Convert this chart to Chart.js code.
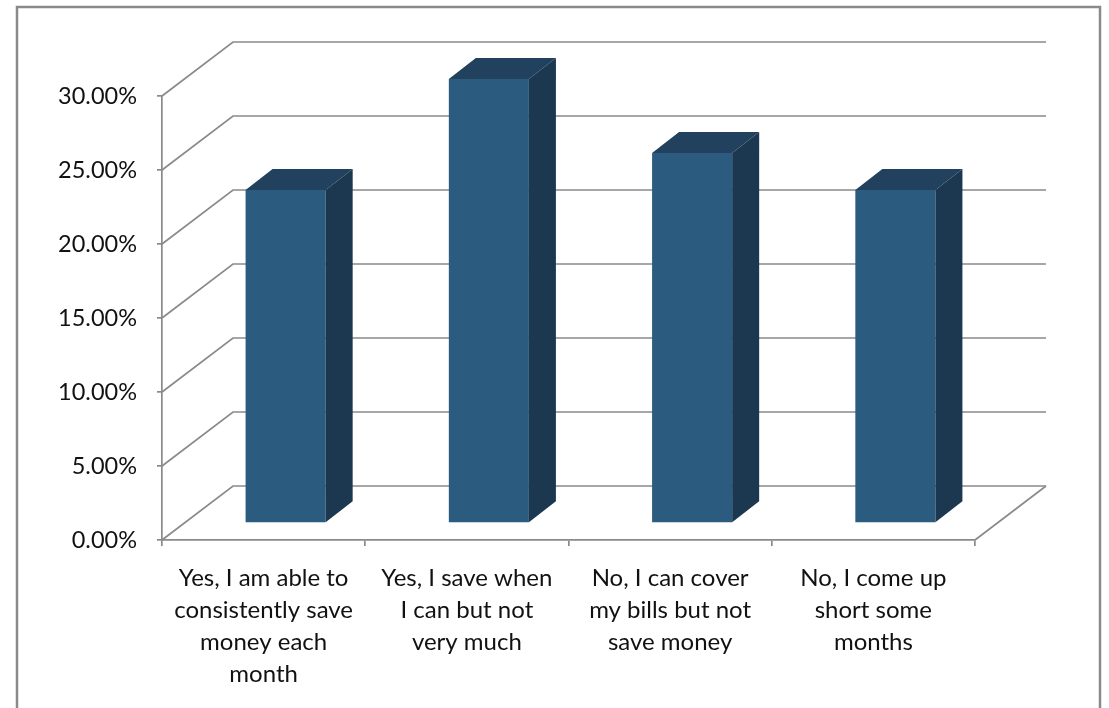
<!DOCTYPE html>
<html>
<head>
<meta charset="utf-8">
<title>Saving habits</title>
<script src="https://cdn.jsdelivr.net/npm/chart.js@4.4.1/dist/chart.umd.min.js"></script>
<style>
    html, body { margin: 0; padding: 0; background: #fff; }
    #chart { display: block; }
</style>
</head>
<body>
<canvas id="chart" width="1109" height="708"></canvas>
<script>
// Survey answers and their share of responses
const categories = [
    ['Yes, I am able to', 'consistently save', 'money each', 'month'],
    ['Yes, I save when', 'I can but not', 'very much'],
    ['No, I can cover', 'my bills but not', 'save money'],
    ['No, I come up', 'short some', 'months']
];
const shares = [22.5, 30.0, 25.0, 22.5];
const yTicks = [0, 5, 10, 15, 20, 25, 30];

// 3D look: wall depth and where the bars sit inside it
const WALL_DX = 71, WALL_DY = -54;
const BAR_SHIFT_X = 22, BAR_SHIFT_Y = -17;
const BAR_DX = 27, BAR_DY = -21;

const GRID = '#8a8a8a';
const FRONT = '#2b5b7f';
const TOP = '#21415f';
const SIDE = '#1c3850';

const box3d = {
    id: 'box3d',
    beforeDraw(chart) {
        const ctx = chart.ctx;
        ctx.save();
        ctx.strokeStyle = '#8a8a8a';
        ctx.lineWidth = 2.5;
        ctx.strokeRect(17, 7, 1083, 800);
        ctx.restore();
    },
    beforeDatasetsDraw(chart) {
        const ctx = chart.ctx;
        const area = chart.chartArea;
        const y = chart.scales.y;
        ctx.save();
        ctx.strokeStyle = GRID;
        ctx.lineWidth = 1.7;
        // side wall diagonals + back wall lines
        yTicks.forEach(v => {
            const py = y.getPixelForValue(v);
            ctx.beginPath();
            ctx.moveTo(area.left, py);
            ctx.lineTo(area.left + WALL_DX, py + WALL_DY);
            ctx.lineTo(area.right + WALL_DX, py + WALL_DY);
            ctx.stroke();
        });
        // floor right edge
        const base = y.getPixelForValue(0);
        ctx.beginPath();
        ctx.moveTo(area.right, base);
        ctx.lineTo(area.right + WALL_DX, base + WALL_DY);
        ctx.stroke();
        ctx.restore();

        // bars sit part way back in the box
        ctx.save();
        ctx.translate(BAR_SHIFT_X, BAR_SHIFT_Y);
    },
    afterDatasetsDraw(chart) {
        const ctx = chart.ctx;
        const meta = chart.getDatasetMeta(0);
        meta.data.forEach(bar => {
            const l = bar.x - bar.width / 2;
            const r = bar.x + bar.width / 2;
            const t = bar.y;
            const b = bar.base;
            // top face
            ctx.fillStyle = TOP;
            ctx.beginPath();
            ctx.moveTo(l, t);
            ctx.lineTo(l + BAR_DX, t + BAR_DY);
            ctx.lineTo(r + BAR_DX, t + BAR_DY);
            ctx.lineTo(r, t);
            ctx.closePath();
            ctx.fill();
            // side face
            ctx.fillStyle = SIDE;
            ctx.beginPath();
            ctx.moveTo(r, t);
            ctx.lineTo(r + BAR_DX, t + BAR_DY);
            ctx.lineTo(r + BAR_DX, b + BAR_DY);
            ctx.lineTo(r, b);
            ctx.closePath();
            ctx.fill();
        });
        ctx.restore();
    }
};

const ctx = document.getElementById('chart').getContext('2d');
new Chart(ctx, {
    type: 'bar',
    data: {
        labels: categories,
        datasets: [{
            data: shares,
            backgroundColor: FRONT,
            borderWidth: 0,
            categoryPercentage: 1,
            barPercentage: 0.394,
            clip: false
        }]
    },
    options: {
        responsive: false,
        animation: false,
        layout: {
            padding: { left: 20, right: 134, top: 96, bottom: 0 }
        },
        plugins: {
            legend: { display: false },
            tooltip: { enabled: false }
        },
        scales: {
            y: {
                min: 0,
                max: 30,
                afterFit(scale) { scale.width = 142; },
                afterBuildTicks(scale) {
                    scale.ticks = yTicks.map(v => ({ value: v }));
                },
                grid: {
                    drawOnChartArea: false,
                    tickLength: 5,
                    color: GRID,
                    lineWidth: 1.7
                },
                border: { display: true, color: GRID, width: 1.7 },
                ticks: {
                    padding: 20,
                    color: '#111',
                    font: { family: 'Lato', size: 23.5 },
                    callback: v => v.toFixed(2) + '%'
                }
            },
            x: {
                afterFit(scale) { scale.height = 168; },
                grid: {
                    drawOnChartArea: false,
                    tickLength: 6,
                    color: GRID,
                    lineWidth: 1.7
                },
                border: { display: true, color: GRID, width: 1.7 },
                ticks: {
                    padding: 16,
                    maxRotation: 0,
                    autoSkip: false,
                    color: '#111',
                    font: { family: 'Lato', size: 24, lineHeight: 1.333 }
                }
            }
        }
    },
    plugins: [box3d]
});
</script>
</body>
</html>
